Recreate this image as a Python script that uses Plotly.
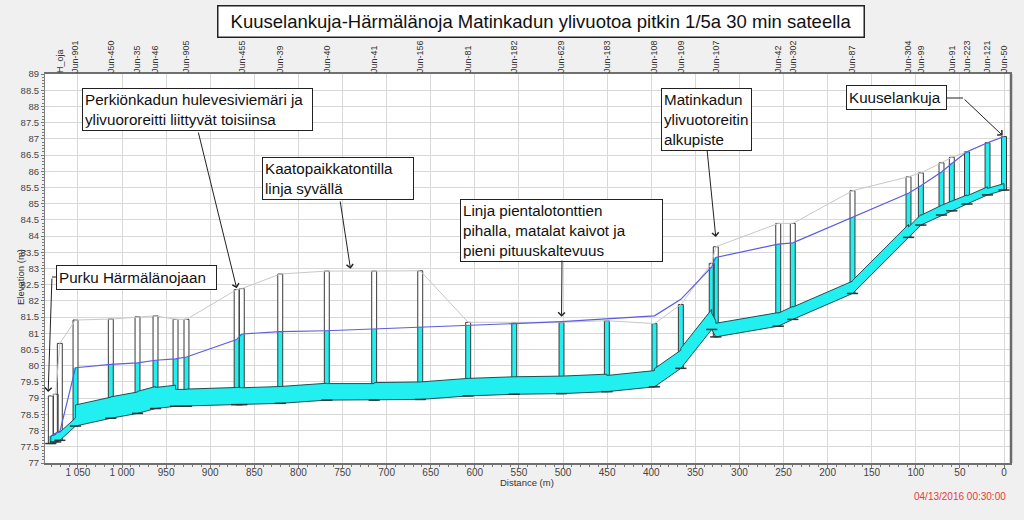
import plotly.graph_objects as go

# ---------------- data ----------------
node_names = ['', '', 'H_oja', 'Jun-901', 'Jun-450', 'Jun-35', 'Jun-46', '', 'Jun-905', '',
              'Jun-455', 'Jun-39', 'Jun-40', 'Jun-41', 'Jun-156', 'Jun-81', 'Jun-182', 'Jun-629',
              'Jun-183', 'Jun-108', 'Jun-109', '', 'Jun-107', 'Jun-42', 'Jun-302', 'Jun-87',
              'Jun-304', 'Jun-99', '', 'Jun-91', 'Jun-223', 'Jun-121', 'Jun-50']
distance_m = [1080.7, 1075.2, 1070.5, 1052.7, 1012.7, 982.4, 962.0, 939.3, 926.9, 870.0,
              864.2, 820.6, 767.8, 714.1, 661.9, 607.5, 555.3, 501.7, 450.3, 396.3,
              366.4, 331.4, 326.8, 256.0, 239.5, 171.8, 108.3, 94.3, 70.9, 59.2,
              42.0, 18.7, 0.0]
invert_elev = [77.60, 77.65, 77.70, 78.14, 78.38, 78.53, 78.68, 78.75, 78.75, 78.80,
               78.80, 78.84, 78.94, 78.94, 78.96, 79.07, 79.12, 79.14, 79.20, 79.35,
               79.92, 81.12, 80.89, 81.22, 81.43, 82.23, 83.96, 84.34, 84.65, 84.78,
               84.99, 85.27, 85.42]
ground_elev = [79.07, 79.12, 80.69, 81.41, 81.44, 81.51, 81.54, 81.43, 81.43, 82.35,
               82.38, 82.83, 82.92, 82.92, 82.93, 81.34, 81.33, 81.34, 81.39, 81.30,
               81.89, 83.16, 83.67, 84.39, 84.39, 85.40, 85.83, 85.95, 86.26, 86.43,
               86.60, 86.88, 87.07]
water_elev = [77.83, 77.92, 77.96, 79.94, 80.04, 80.09, 80.17, 80.21, 80.27, 80.81,
              80.98, 81.05, 81.08, 81.13, 81.20, 81.23, 81.30, 81.36, 81.44, 81.54,
              82.05, 83.05, 83.34, 83.75, 83.79, 84.58, 85.32, 85.55, 85.98, 86.24,
              86.60, 86.88, 87.07]
# conduit height for each link between consecutive nodes
conduit_height = [0.23, 0.27, 0.25, 0.65, 0.66, 0.68, 0.65, 0.52, 0.53, 0.53,
                  0.52, 0.52, 0.51, 0.54, 0.54, 0.54, 0.54, 0.54, 0.50, 0.56,
                  0.62, 0.50, 0.42, 0.40, 0.38, 0.40, 0.32, 0.30, 0.30, 0.28,
                  0.25, 0.20]

title_text = "Kuuselankuja-Härmälänoja Matinkadun ylivuotoa pitkin 1/5a 30 min sateella"
timestamp_text = "04/13/2016 00:30:00"

# ---------------- geometry helpers ----------------
W, H = 1024, 520
L, R, T, B = 45, 13, 74, 57
X_RANGE = [1087.3, -7.9]
Y_RANGE = [77, 89]
PW, PH = W - L - R, H - T - B


def pxx(X):
    return (X - L) / PW


def pxy(Y):
    return (H - B - Y) / PH


def px_to_dist(X):
    return X_RANGE[0] + (X - L) / PW * (X_RANGE[1] - X_RANGE[0])


def py_to_elev(Y):
    return Y_RANGE[1] - (Y - T) / PH * (Y_RANGE[1] - Y_RANGE[0])


fig = go.Figure()

CYAN = '#22EFEF'

# conduits (surcharged -> filled)
top_x, top_y = [], []
for i, h in enumerate(conduit_height):
    top_x += [distance_m[i], distance_m[i + 1]]
    top_y += [invert_elev[i] + h, invert_elev[i + 1] + h]
poly_x = top_x + distance_m[::-1] + [top_x[0]]
poly_y = top_y + invert_elev[::-1] + [top_y[0]]
fig.add_trace(go.Scatter(x=poly_x, y=poly_y, mode='lines', fill='toself',
                         fillcolor=CYAN, line=dict(color='#1E4F55', width=1),
                         hoverinfo='skip'))

# ground line
fig.add_trace(go.Scatter(x=distance_m, y=ground_elev, mode='lines',
                         line=dict(color='#C8C8C8', width=1), hoverinfo='skip'))

bar_w = 5.6
depth = [g - i for g, i in zip(ground_elev, invert_elev)]
wet = [min(w, g) - i for w, g, i in zip(water_elev, ground_elev, invert_elev)]
fig.add_trace(go.Bar(x=distance_m, y=depth, base=invert_elev, width=bar_w,
                     marker=dict(color='white', line=dict(width=0)), hoverinfo='skip'))
fig.add_trace(go.Bar(x=distance_m, y=wet, base=invert_elev, width=bar_w,
                     marker=dict(color=CYAN, line=dict(width=0)), hoverinfo='skip'))
fig.add_trace(go.Bar(x=distance_m, y=depth, base=invert_elev, width=bar_w,
                     marker=dict(color='rgba(0,0,0,0)', line=dict(width=1, color='#3A3A3A')),
                     hoverinfo='skip'))

# hydraulic grade line
fig.add_trace(go.Scatter(x=distance_m, y=water_elev, mode='lines',
                         line=dict(color='#5C5CE0', width=1.2), hoverinfo='skip'))

# invert ticks
fig.add_trace(go.Scatter(x=distance_m, y=invert_elev, mode='markers',
                         marker=dict(symbol='line-ew', size=8,
                                     line=dict(width=1.5, color='#333333')),
                         hoverinfo='skip'))

# top axis labels (node names)
lab_x = [d for d, n in zip(distance_m, node_names) if n]
lab_t = [n for n in node_names if n]
lab_y = [g for g, n in zip(ground_elev, node_names) if n]
fig.add_trace(go.Scatter(x=lab_x, y=lab_y, xaxis='x2', mode='markers',
                         marker=dict(opacity=0), hoverinfo='skip'))

fig.update_layout(
    width=W, height=H,
    margin=dict(l=L, r=R, t=T, b=B, autoexpand=False),
    paper_bgcolor='#F0F0F0', plot_bgcolor='white',
    showlegend=False, barmode='overlay', separators='. ',
    font=dict(family='Arial, Liberation Sans, sans-serif', color='#444'),
    xaxis=dict(range=X_RANGE, tick0=0, dtick=50, showgrid=True, gridcolor='#D8D8D8',
               ticks='outside', ticklen=3, tickcolor='#777', ticklabelstandoff=-4,
               minor=dict(dtick=10, ticks='outside', ticklen=2, tickcolor='#777', showgrid=False),
               showline=True, linecolor='#707070', linewidth=1.5, mirror=True,
               separatethousands=True, tickfont=dict(size=10, color='#444'), zeroline=False),
    yaxis=dict(range=Y_RANGE, dtick=0.5, showgrid=True, gridcolor='#D8D8D8',
               ticks='outside', ticklen=3, tickcolor='#777',
               minor=dict(dtick=0.1, ticks='outside', ticklen=2, tickcolor='#777', showgrid=False),
               showline=True, linecolor='#808080', linewidth=1, mirror=True,
               tickfont=dict(size=9.5, color='#444'), zeroline=False),
    xaxis2=dict(overlaying='x', side='top', range=X_RANGE, tickmode='array',
                tickvals=lab_x, ticktext=lab_t, tickangle=-90, ticks='',
                showgrid=False, showline=False, zeroline=False,
                tickfont=dict(size=9, color='#333')),
)


def box(text, left, top, w, h, size=15.2, align='left', bw=1, fixed_h=True):
    pad = 2
    d = dict(text=text, xref='paper', yref='paper', x=pxx(left), y=pxy(top + h / 2),
             xanchor='left', yanchor='middle', showarrow=False,
             width=w - 2 * pad - 2 * bw,
             align=align, valign='middle', bgcolor='white', bordercolor='#222',
             borderwidth=bw, borderpad=pad, font=dict(size=size, color='#111'))
    if fixed_h:
        d['height'] = h - 2 * pad - 2 * bw
    return d


def arrow(tip_d, tip_e, tail_X, tail_Y):
    return dict(x=tip_d, y=tip_e, xref='x', yref='y',
                ax=px_to_dist(tail_X), ay=py_to_elev(tail_Y), axref='x', ayref='y',
                text='', showarrow=True, arrowhead=4, arrowsize=1.3, arrowwidth=1,
                arrowcolor='#222', standoff=0)


annotations = [
    box(title_text, 217, 5, 648, 33, size=18.5, align='center', bw=1.5),
    box("Perkiönkadun hulevesiviemäri ja<br>ylivuororeitti liittyvät toisiinsa", 82, 87, 231, 44,
        fixed_h=False),
    box("Kaatopaikkatontilla<br>linja syvällä", 262, 156, 152, 44, fixed_h=False),
    box("Linja pientalotonttien<br>pihalla, matalat kaivot ja<br>pieni pituuskaltevuus", 460, 201, 203, 58,
        fixed_h=False),
    box("Matinkadun<br>ylivuotoreitin<br>alkupiste", 661, 89, 91, 60, fixed_h=False),
    box("Kuuselankuja", 846, 85, 101, 25),
    box("Purku Härmälänojaan", 56, 265, 161, 25),
    arrow(distance_m[0] + 3, ground_elev[0] + 0.12, 52, 277),
    arrow(distance_m[9], ground_elev[9] + 0.04, 198, 131),
    arrow((distance_m[12] + distance_m[13]) / 2, ground_elev[12] + 0.07, 340, 200),
    arrow(distance_m[17], ground_elev[17] + 0.17, 562, 259),
    arrow(distance_m[22], ground_elev[22] + 0.3, 707, 149),
    arrow(distance_m[32] + 1.5, ground_elev[32] + 0.03, 963, 98),
    dict(text="Distance (m)", xref='paper', yref='paper', x=pxx(527), y=pxy(482),
         xanchor='center', yanchor='middle', showarrow=False,
         font=dict(size=9.5, color='#333')),
    dict(text="Elevation (m)", xref='paper', yref='paper', x=pxx(20), y=pxy(277),
         xanchor='center', yanchor='middle', showarrow=False, textangle=-90,
         font=dict(size=9.5, color='#333')),
    dict(text=timestamp_text, xref='paper', yref='paper', x=pxx(1008), y=pxy(496),
         xanchor='right', yanchor='middle', showarrow=False,
         font=dict(size=10, color='#E8373B')),
]
fig.update_layout(annotations=annotations)

fig.update_layout(shapes=[
    dict(type='line', xref='paper', yref='paper', x0=pxx(56), y0=pxy(277), x1=pxx(52), y1=pxy(277),
         line=dict(color='#222', width=1)),
    dict(type='line', xref='paper', yref='paper', x0=pxx(947), y0=pxy(98), x1=pxx(963), y1=pxy(98),
         line=dict(color='#222', width=1)),
    dict(type='line', xref='paper', yref='paper', x0=1, y0=0, x1=1, y1=1,
         line=dict(color='#6A6A6A', width=2.5)),
])

fig.write_html("out.html",
               config={'displayModeBar': False},
               post_script="document.body.style.margin='0';"
                           "document.body.style.overflow='hidden';"
                           "document.body.style.background='#F0F0F0';")
